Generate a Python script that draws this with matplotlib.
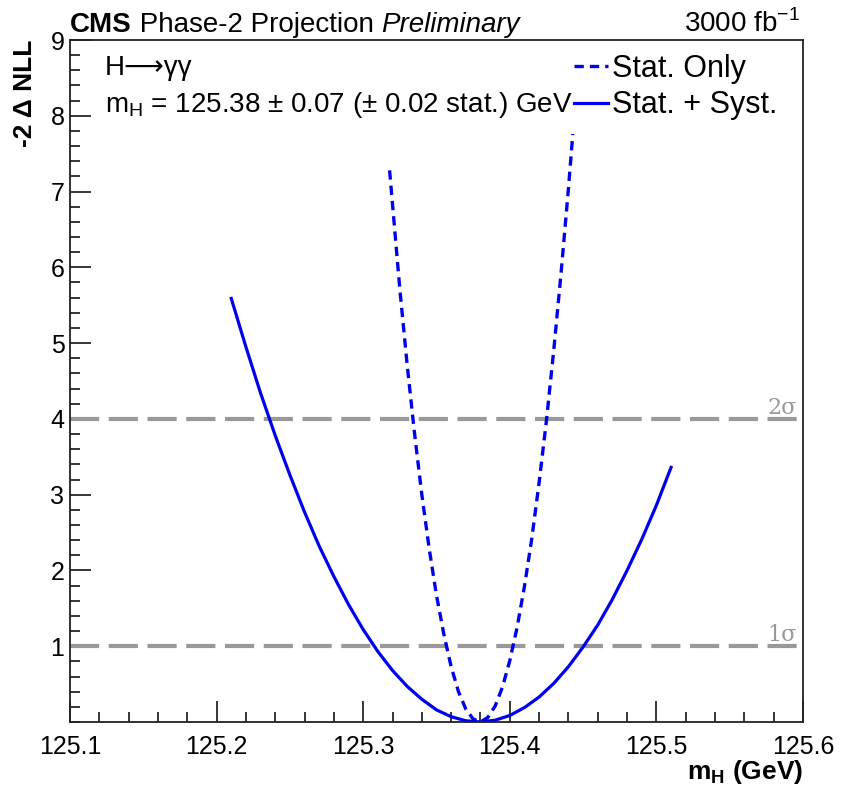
import matplotlib
matplotlib.use("Agg")
import matplotlib.pyplot as plt
from matplotlib.ticker import MultipleLocator, FixedLocator, FixedFormatter

plt.rcParams['font.family'] = ['Liberation Sans', 'DejaVu Sans']
plt.rcParams['mathtext.fontset'] = 'custom'
plt.rcParams['mathtext.rm'] = 'Liberation Sans'
plt.rcParams['mathtext.bf'] = 'Liberation Sans:bold'

# Stat. + Syst. scan
mh_syst = [125.21, 125.22, 125.23, 125.24, 125.25, 125.26, 125.27, 125.28, 125.29, 125.30,
           125.31, 125.32, 125.33, 125.34, 125.35, 125.36, 125.37, 125.38, 125.39, 125.40,
           125.41, 125.42, 125.43, 125.44, 125.45, 125.46, 125.47, 125.48, 125.49, 125.50, 125.51]
nll_syst = [5.59, 4.95, 4.34, 3.78, 3.26, 2.77, 2.32, 1.92, 1.55, 1.22,
            0.93, 0.68, 0.47, 0.30, 0.16, 0.07, 0.016, 0.0, 0.024, 0.086,
            0.19, 0.33, 0.51, 0.73, 0.99, 1.28, 1.62, 2.00, 2.41, 2.86, 3.36]

# Stat. only scan
mh_stat = [125.318, 125.325, 125.330, 125.335, 125.340, 125.345, 125.350, 125.355, 125.360,
           125.365, 125.370, 125.375, 125.380, 125.385, 125.390, 125.395, 125.400, 125.405,
           125.410, 125.415, 125.420, 125.425, 125.430, 125.435, 125.440, 125.445, 125.448]
nll_stat = [7.28, 5.71, 4.71, 3.81, 3.00, 2.29, 1.67, 1.16, 0.73,
            0.40, 0.17, 0.04, 0.0, 0.06, 0.21, 0.46, 0.81, 1.25,
            1.79, 2.42, 3.16, 3.98, 4.91, 5.93, 7.04, 8.25, 9.03]

sigma_levels = [1, 4]
sigma_labels = ['1σ', '2σ']

x_ticks = [125.1, 125.2, 125.3, 125.4, 125.5, 125.6]
x_ticklabels = ['125.1', '125.2', '125.3', '125.4', '125.5', '125.6']
y_ticks = [1, 2, 3, 4, 5, 6, 7, 8, 9]

fig = plt.figure(figsize=(8.41, 7.85), dpi=100)
ax = fig.add_axes([70 / 841, 63 / 785, 733 / 841, 682 / 785])

blue = '#0000ee'
ax.plot(mh_stat, nll_stat, color=blue, lw=2.4, linestyle=(0, (2.8, 1.8)), label='Stat. Only', zorder=3)
ax.plot(mh_syst, nll_syst, color=blue, lw=2.3, label='Stat. + Syst.', zorder=3)

for lvl, lab in zip(sigma_levels, sigma_labels):
    ax.axhline(lvl, color='#999999', lw=3, linestyle=(0, (7, 2.3)), zorder=2)
    ax.text(0.992, lvl, lab, transform=ax.get_yaxis_transform(), ha='right', va='bottom',
            color='#999999', fontsize=16, family=['DejaVu Serif'])

ax.set_xlim(125.1, 125.6)
ax.set_ylim(0, 9)
ax.xaxis.set_major_locator(FixedLocator(x_ticks))
ax.xaxis.set_major_formatter(FixedFormatter(x_ticklabels))
ax.xaxis.set_minor_locator(MultipleLocator(0.02))
ax.yaxis.set_major_locator(FixedLocator(y_ticks))
ax.yaxis.set_minor_locator(MultipleLocator(0.2))
ax.tick_params(which='both', direction='in', top=False, right=False, labelsize=18, width=1.1)
ax.tick_params(which='major', length=15)
ax.tick_params(which='minor', length=7.5)
ax.tick_params(axis='x', pad=9)
ax.tick_params(axis='y', pad=4)
for s in ax.spines.values():
    s.set_linewidth(1.3)
    s.set_color('#222222')
    s.set_zorder(7)

ax.set_xlabel('m$_\\mathregular{H}$ (GeV)', fontsize=19, fontweight='bold', loc='right', labelpad=0)
ax.set_ylabel('-2 Δ NLL', fontsize=19, fontweight='bold', loc='top', labelpad=10)

# header: CMS Phase-2 Projection Preliminary, chained so pieces never overlap
t1 = fig.text(70 / 841, 1 - 32 / 785, 'CMS', fontsize=20, fontweight='bold', ha='left', va='baseline')
t2 = fig.text(0, 0, ' Phase-2 Projection ', fontsize=20, ha='left', va='baseline')
t3 = fig.text(0, 0, 'Preliminary', fontsize=20, style='italic', ha='left', va='baseline')
fig.canvas.draw()
r = fig.canvas.get_renderer()
inv = fig.transFigure.inverted()
bb1 = t1.get_window_extent(r)
t2.set_position((inv.transform((bb1.x1, 0))[0], 1 - 32 / 785))
bb2 = t2.get_window_extent(r)
t3.set_position((inv.transform((bb2.x1, 0))[0], 1 - 32 / 785))
fig.text(800 / 841, 1 - 32 / 785, '3000 fb$^\\mathregular{-1}$', fontsize=20, ha='right', va='baseline')

ax.text(0.048, 0.959, 'H⟶γγ', transform=ax.transAxes, fontsize=20, va='center', ha='left', zorder=6)
ax.text(0.048, 0.905, 'm$_\\mathregular{H}$ = 125.38 ± 0.07 (± 0.02 stat.) GeV',
        transform=ax.transAxes, fontsize=20, va='center', ha='left', zorder=6)

leg = ax.legend(loc='upper right', bbox_to_anchor=(0.984, 1.0), fontsize=22, frameon=True,
                framealpha=1, edgecolor='none', facecolor='white', fancybox=False,
                handlelength=1.1, handletextpad=0.15, borderpad=0.45, labelspacing=0.22,
                borderaxespad=0.0)
leg.set_zorder(5)

fig.savefig('out.png', dpi=100)
